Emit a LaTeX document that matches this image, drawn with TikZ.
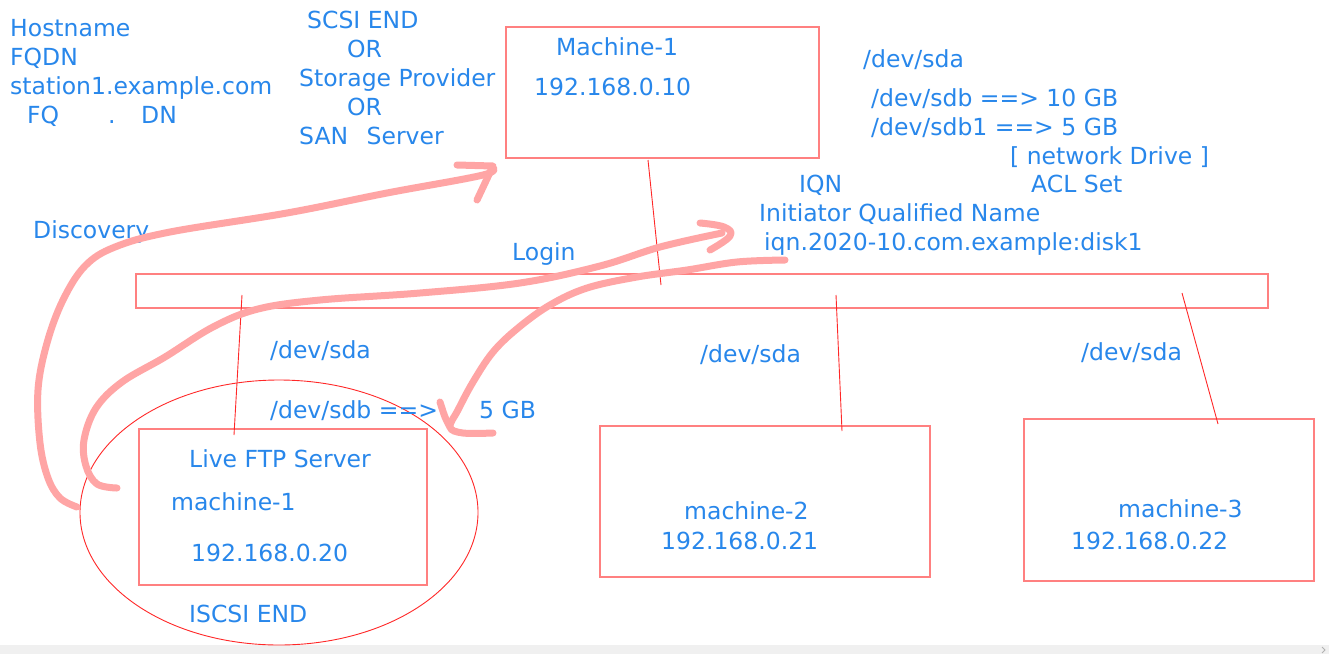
\documentclass[tikz,border=0pt]{standalone}
\usepackage{fontspec}
\setmainfont{DejaVu Sans}
\definecolor{txt}{RGB}{40,135,235}
\definecolor{pinkst}{RGB}{255,165,165}
\definecolor{boxred}{RGB}{255,128,128}
\definecolor{thinred}{RGB}{255,40,40}
\definecolor{barg}{RGB}{240,240,240}
\begin{document}
\begin{tikzpicture}[x=1pt,y=-1pt,
  lbl/.style={anchor=base west, inner sep=0pt, text=txt, font=\fontsize{23.5}{28}\selectfont},
  boxr/.style={draw=boxred, line width=1.8pt, inner sep=0pt, anchor=north west},
  wire/.style={draw=thinred, line width=0.9pt},
  stroke/.style={draw=pinkst, line width=7pt, line cap=round, line join=round}]
\useasboundingbox[fill=white] (0,0) rectangle (1329,654);
\fill[barg] (0,645) rectangle (1329,654);
\draw[gray!60, line width=0.8pt] (1322,647) -- (1325,650) -- (1322,653);

% boxes
\node[boxr, minimum width=313pt, minimum height=131pt] (m1) at (505,26) {};
\node[boxr, minimum width=1132pt, minimum height=34pt] (bar) at (135,273) {};
\node[boxr, minimum width=288pt, minimum height=156pt] (ftp) at (138,428) {};
\node[boxr, minimum width=330pt, minimum height=151pt] (m2) at (599,425) {};
\node[boxr, minimum width=290pt, minimum height=162pt] (m3) at (1023,418) {};
\draw[thinred, line width=0.9pt] (279,512.5) ellipse [x radius=199, y radius=132.5];

% thin connectors
\coordinate (a1) at (648,160); \coordinate (a2) at (661,285);
\coordinate (b1) at (242,295); \coordinate (b2) at (234,435);
\coordinate (c1) at (836,295); \coordinate (c2) at (842,431);
\coordinate (d1) at (1182,293); \coordinate (d2) at (1218,424);
\draw[wire] (a1) -- (a2);
\draw[wire] (b1) -- (b2);
\draw[wire] (c1) -- (c2);
\draw[wire] (d1) -- (d2);

% texts top left
\node[lbl] (t1) at (10,36) {Hostname};
\node[lbl] (t2) at (10,65) {FQDN};
\node[lbl] (t3) at (10,94) {station1.example.com};
\node[lbl] (t4a) at (27,123) {FQ};
\node[lbl] (t4b) at (108,123) {.};
\node[lbl] (t4c) at (141,123) {DN};
\node[lbl] (s1) at (307,28) {SCSI END};
\node[lbl] (s2) at (347,57) {OR};
\node[lbl] (s3) at (299,86) {Storage Provider};
\node[lbl] (s4) at (347,115) {OR};
\node[lbl] (s5) at (299,144) {SAN\hspace{11pt} Server};
\node[lbl] (disc) at (33,238) {Discovery};

% machine-1 top
\node[lbl] (m1a) at (556,55) {Machine-1};
\node[lbl] (m1b) at (534,95) {192.168.0.10};
\node[lbl] (r1) at (863,67) {/dev/sda};
\node[lbl] (r2) at (871,106) {/dev/sdb ==> 10 GB};
\node[lbl] (r3) at (871,135) {/dev/sdb1 ==> 5 GB};
\node[lbl] (r4) at (1010,164) {[ network Drive ]};
\node[lbl] (r5) at (799,192) {IQN};
\node[lbl] (r6) at (1031,192) {ACL Set};
\node[lbl] (r7) at (759,221) {Initiator Qualified Name};
\node[lbl] (r8) at (764,250) {iqn.2020-10.com.example:disk1};
\node[lbl] (login) at (512,260) {Login};

% lower left
\node[lbl] (l1) at (270,358) {/dev/sda};
\node[lbl] (l2) at (270,418) {/dev/sdb ==>};
\node[lbl] (l3) at (479,418) {5 GB};
\node[lbl] (f1) at (189,467) {Live FTP Server};
\node[lbl] (f2) at (171,510) {machine-1};
\node[lbl] (f3) at (191,561) {192.168.0.20};
\node[lbl] (f4) at (189,622) {ISCSI END};

% machine-2 / machine-3
\node[lbl] (n1) at (700,362) {/dev/sda};
\node[lbl] (n2) at (684,519) {machine-2};
\node[lbl] (n3) at (661,549) {192.168.0.21};
\node[lbl] (p1) at (1081,360) {/dev/sda};
\node[lbl] (p2) at (1118,517) {machine-3};
\node[lbl] (p3) at (1071,549) {192.168.0.22};

% pink freehand strokes
\draw[stroke] plot[smooth, tension=0.6] coordinates {(77,507) (60,498) (48,478) (40,443) (38,390) (47,343) (63,300) (85,266) (115,247) (170,232) (287,213) (387,193) (483,175) (492,167)};
\draw[stroke] (457,165) -- (493,166) -- (477,200);

\draw[stroke] plot[smooth, tension=0.6] coordinates {(117,488) (97,484) (86,466) (84,440) (96,408) (122,382) (165,357) (213,327) (258,309) (320,300) (420,293) (520,283) (600,266) (660,247) (722,233)};
\draw[stroke] plot[smooth, tension=0.7] coordinates {(700,223) (724,227) (730,236) (710,250)};

\draw[stroke] plot[smooth, tension=0.6] coordinates {(785,260) (737,262) (687,270) (637,277) (587,288) (550,305) (518,328) (493,352) (473,382) (458,410) (450,427) (463,433) (493,433)};
\draw[stroke] plot[smooth, tension=0.6] coordinates {(440,402) (445,417) (450,427)};
\end{tikzpicture}
\end{document}
